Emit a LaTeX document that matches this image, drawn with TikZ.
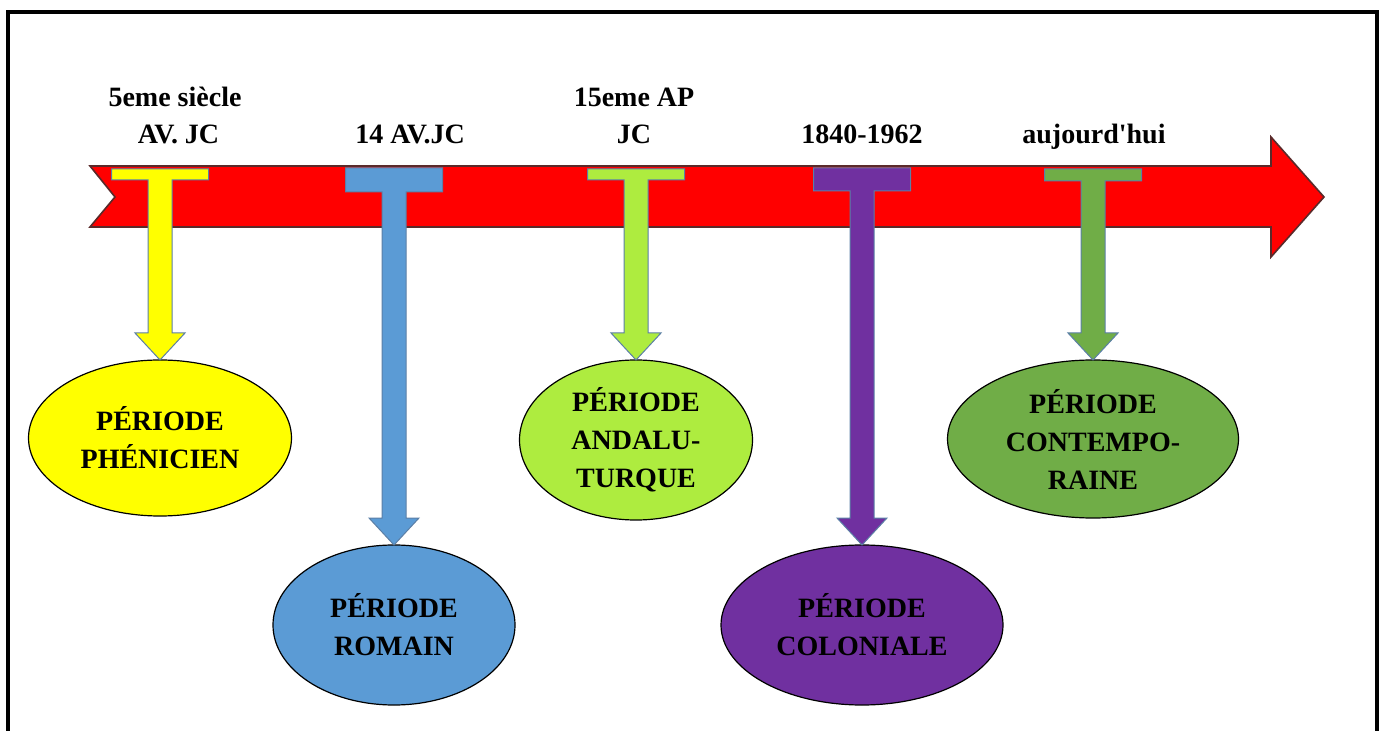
\documentclass[tikz,border=0pt]{standalone}
\usepackage{fontspec}
\setmainfont{Liberation Serif}
\usetikzlibrary{positioning, shapes.geometric, calc}

\definecolor{tlred}{HTML}{FF0000}
\definecolor{tlline}{HTML}{5A2A2A}
\definecolor{teeblue}{HTML}{5B7FA6}
\definecolor{cyel}{HTML}{FFFF00}
\definecolor{cblu}{HTML}{5B9BD5}
\definecolor{clim}{HTML}{AEEC3F}
\definecolor{cpur}{HTML}{7030A0}
\definecolor{cgrn}{HTML}{70AD47}

% T shaped pointer, drawn upward from the tip: #1 stem length, #2 bar height
\newcommand{\teepath}[2]{-- ++(25,-27) -- ++(-13,0) -- ++(0,-#1) -- ++(36.5,0)
  -- ++(0,-#2) -- ++(-97,0) -- ++(0,#2) -- ++(36.5,0) -- ++(0,#1) -- ++(-13,0) -- cycle}

\begin{document}
\begin{tikzpicture}[
    x=0.5pt, y=-0.5pt,
    frame/.style={draw=black, line width=2pt},
    era/.style={draw=black, line width=0.6pt, ellipse, inner sep=0pt, outer sep=0pt,
                align=center, font=\bfseries\fontsize{14}{19}\selectfont},
    tee/.style={draw=teeblue, line width=0.5pt},
    lbl/.style={anchor=base, align=center, font=\bfseries\fontsize{14}{18.5}\selectfont}
]
\useasboundingbox (0,0) rectangle (1380,731);
\draw[frame] (8,731) -- (8,12) -- (1377,12) -- (1377,731);

% time line
\draw[fill=tlred, draw=tlline, line width=0.8pt] (90,166) -- (1271,166) -- (1271,137)
      -- (1324,197) -- (1271,257) -- (1271,227) -- (90,227) -- (115,197) -- cycle;

% periods
\node[era, fill=cyel, minimum width=131.5pt, minimum height=78pt] (phe_e) at (160,438)
      {PÉRIODE\\PHÉNICIEN};
\node[era, fill=cblu, minimum width=121pt, minimum height=80pt] (rom_e) at (394,625)
      {PÉRIODE\\ROMAIN};
\node[era, fill=clim, minimum width=116.5pt, minimum height=80pt] (and_e) at (636,440)
      {PÉRIODE\\ANDALU-\\TURQUE};
\node[era, fill=cpur, minimum width=141pt, minimum height=80pt] (col_e) at (862,625)
      {PÉRIODE\\COLONIALE};
\node[era, fill=cgrn, minimum width=145.5pt, minimum height=79pt] (con_e) at (1093,439)
      {PÉRIODE\\CONTEMPO-\\RAINE};

% pointers from the time line
\draw[tee, fill=cyel] (phe_e.north) \teepath{153}{11};
\draw[tee, fill=cblu] (rom_e.north) \teepath{326}{24};
\draw[tee, fill=clim] (and_e.north) \teepath{153}{11};
\draw[tee, fill=cpur] (col_e.north) \teepath{327}{23};
\draw[tee, fill=cgrn] (con_e.north) \teepath{152}{12};

% dates
\node[lbl] (phe_t) at (175,144) {5eme siècle\\ \ AV. JC};
\node[lbl] (rom_t) at (410,144) {14 AV.JC};
\node[lbl] (and_t) at (634,144) {15eme AP\\ JC};
\node[lbl] (col_t) at (862,144) {1840-1962};
\node[lbl] (con_t) at (1094,144) {aujourd\textquotesingle hui};
\end{tikzpicture}
\end{document}
